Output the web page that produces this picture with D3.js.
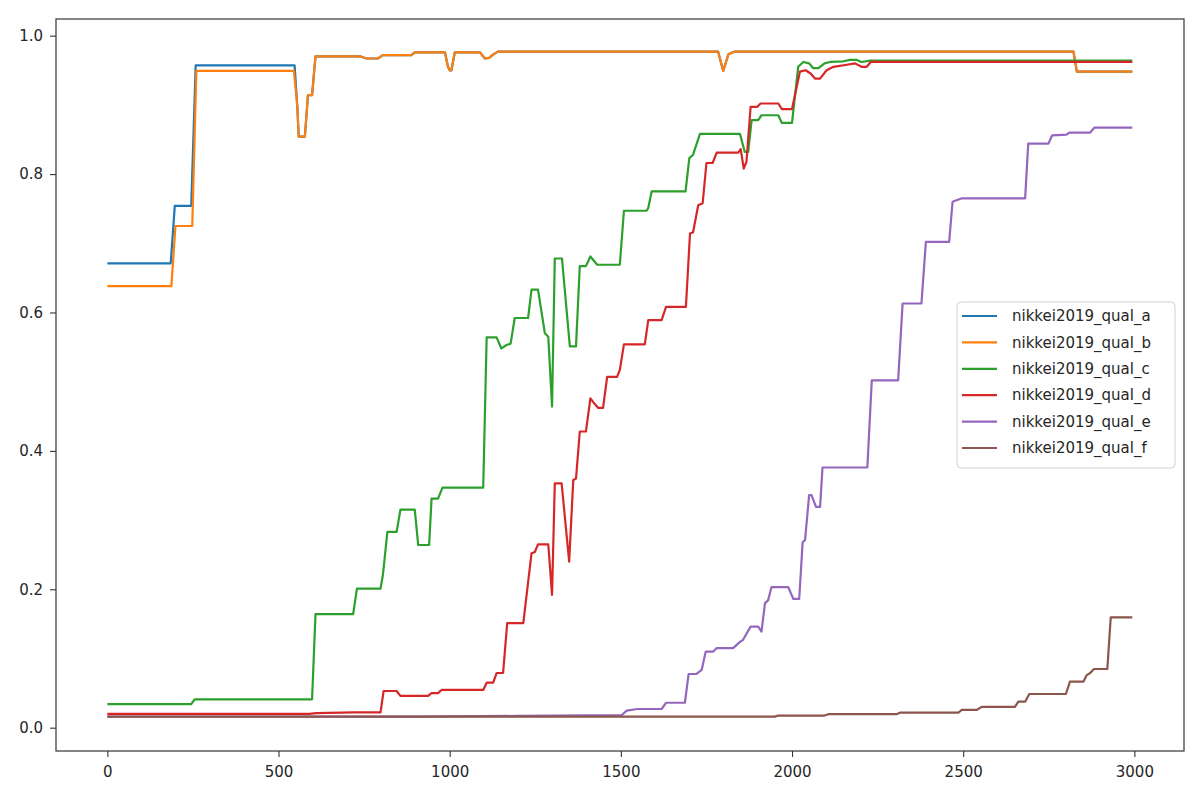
<!DOCTYPE html>
<html>
<head>
<meta charset="utf-8">
<script src="https://cdn.jsdelivr.net/npm/d3@7"></script>
<style>
  body { margin: 0; background: #fff; }
  svg text { font-family: "DejaVu Sans", sans-serif; font-size: 15px; fill: #262626; }
</style>
</head>
<body>
<div id="chart"></div>
<script>
// Data: [step, value] breakpoints for each series
var seriesNames = ["nikkei2019_qual_a", "nikkei2019_qual_b", "nikkei2019_qual_c",
                   "nikkei2019_qual_d", "nikkei2019_qual_e", "nikkei2019_qual_f"];
var seriesColors = ["#1f77b4", "#ff7f0e", "#2ca02c", "#d62728", "#9467bd", "#8c564b"];

var xTicks = [0, 500, 1000, 1500, 2000, 2500, 3000];
var yTicks = [0.0, 0.2, 0.4, 0.6, 0.8, 1.0];

var qualA = [[0,0.671],[185,0.671],[197,0.754],[245,0.754],[258,0.957],[547,0.957],[555,0.897],
  [559,0.854],[577,0.854],[586,0.914],[598,0.914],[608,0.970],[740,0.970],[757,0.967],[790,0.967],
  [805,0.972],[888,0.972],[898,0.976],[986,0.976],[995,0.955],[1000,0.950],[1005,0.950],[1015,0.976],
  [1088,0.976],[1103,0.967],[1115,0.968],[1125,0.972],[1141,0.977],[1784,0.977],[1799,0.949],
  [1814,0.973],[1833,0.977],[2822,0.977],[2832,0.948],[2994,0.948]];

var qualB = [[0,0.638],[187,0.638],[199,0.725],[248,0.725],[260,0.949],[545,0.949],[555,0.897],
  [559,0.854],[577,0.854],[586,0.914],[598,0.914],[608,0.970],[740,0.970],[757,0.967],[790,0.967],
  [805,0.972],[888,0.972],[898,0.976],[986,0.976],[995,0.955],[1000,0.950],[1005,0.950],[1015,0.976],
  [1088,0.976],[1103,0.967],[1115,0.968],[1125,0.972],[1141,0.977],[1784,0.977],[1799,0.949],
  [1814,0.973],[1833,0.977],[2822,0.977],[2832,0.948],[2994,0.948]];

var qualC = [[0,0.034],[245,0.034],[255,0.041],[598,0.041],[608,0.164],[718,0.164],[729,0.201],
  [798,0.201],[805,0.221],[818,0.283],[845,0.283],[856,0.315],[898,0.315],[908,0.264],[940,0.264],
  [947,0.331],[966,0.331],[979,0.347],[1098,0.347],[1108,0.564],[1137,0.564],[1151,0.548],
  [1166,0.553],[1178,0.555],[1190,0.592],[1229,0.592],[1239,0.633],[1258,0.633],[1278,0.570],
  [1288,0.565],[1299,0.464],[1307,0.678],[1328,0.678],[1351,0.551],[1369,0.551],[1380,0.667],
  [1398,0.667],[1411,0.681],[1431,0.669],[1497,0.669],[1509,0.747],[1575,0.747],[1580,0.751],
  [1590,0.775],[1689,0.775],[1700,0.823],[1711,0.828],[1731,0.858],[1848,0.858],[1862,0.832],
  [1872,0.832],[1882,0.878],[1901,0.878],[1911,0.885],[1960,0.885],[1970,0.874],[2000,0.874],
  [2018,0.955],[2033,0.962],[2050,0.960],[2062,0.953],[2077,0.953],[2095,0.960],[2111,0.962],
  [2150,0.963],[2169,0.965],[2189,0.965],[2203,0.962],[2228,0.964],[2994,0.964]];

var qualD = [[0,0.020],[590,0.020],[610,0.021],[720,0.022],[798,0.022],[807,0.053],[845,0.053],
  [856,0.046],[937,0.046],[947,0.050],[966,0.050],[976,0.0545],[1098,0.0545],[1108,0.065],
  [1127,0.065],[1137,0.079],[1156,0.079],[1168,0.151],[1215,0.151],[1239,0.252],[1249,0.254],
  [1258,0.265],[1288,0.265],[1299,0.192],[1307,0.353],[1327,0.353],[1349,0.240],[1361,0.358],
  [1369,0.360],[1380,0.428],[1398,0.428],[1411,0.476],[1420,0.470],[1434,0.462],[1448,0.462],
  [1460,0.507],[1489,0.507],[1497,0.517],[1509,0.554],[1570,0.554],[1580,0.589],[1619,0.589],
  [1632,0.608],[1690,0.608],[1702,0.714],[1711,0.716],[1726,0.755],[1739,0.758],[1750,0.816],
  [1768,0.816],[1780,0.831],[1843,0.831],[1850,0.836],[1859,0.808],[1867,0.818],[1879,0.897],
  [1898,0.897],[1908,0.902],[1960,0.902],[1970,0.894],[2000,0.894],[2023,0.948],[2040,0.950],
  [2055,0.945],[2067,0.938],[2082,0.938],[2101,0.950],[2121,0.955],[2160,0.958],[2184,0.960],
  [2203,0.955],[2218,0.955],[2230,0.962],[2994,0.962]];

var qualE = [[0,0.016],[900,0.016],[1200,0.017],[1502,0.018],[1517,0.0246],[1548,0.027],[1619,0.027],
  [1632,0.036],[1687,0.036],[1698,0.0776],[1721,0.0776],[1736,0.0834],[1748,0.110],[1770,0.110],
  [1780,0.115],[1828,0.115],[1848,0.124],[1857,0.127],[1879,0.146],[1901,0.146],[1911,0.139],
  [1921,0.180],[1930,0.184],[1940,0.203],[1989,0.203],[2004,0.186],[2021,0.186],[2031,0.268],
  [2038,0.271],[2050,0.336],[2057,0.336],[2070,0.319],[2082,0.319],[2089,0.376],[2220,0.376],
  [2233,0.502],[2310,0.502],[2323,0.613],[2378,0.613],[2391,0.702],[2459,0.702],[2469,0.760],
  [2496,0.765],[2681,0.765],[2690,0.844],[2749,0.844],[2760,0.856],[2802,0.857],[2810,0.860],
  [2871,0.860],[2883,0.867],[2994,0.867]];

var qualF = [[0,0.016],[1950,0.016],[1960,0.0175],[2095,0.0175],[2106,0.0195],[2305,0.0195],
  [2315,0.0217],[2486,0.0217],[2496,0.0256],[2539,0.0256],[2554,0.030],[2651,0.030],[2661,0.0376],
  [2681,0.0376],[2693,0.0487],[2800,0.0487],[2812,0.0665],[2851,0.0665],[2861,0.076],[2871,0.079],
  [2882,0.0848],[2921,0.0848],[2931,0.1595],[2994,0.1595]];

var allSeries = [qualA, qualB, qualC, qualD, qualE, qualF];

// Layout
var width = 1200, height = 796;
var margin = { top: 19, right: 16, bottom: 45, left: 56 };
var plotW = width - margin.left - margin.right,
    plotH = height - margin.top - margin.bottom;

var svg = d3.select("#chart").append("svg")
    .attr("width", width)
    .attr("height", height);

var g = svg.append("g")
    .attr("transform", "translate(" + margin.left + "," + margin.top + ")");

var x = d3.scaleLinear().domain([-150, 3145]).range([0, plotW]);
var y = d3.scaleLinear().domain([-0.0337, 1.0241]).range([plotH, 0]);

var line = d3.line()
    .x(function(d) { return x(d[0]); })
    .y(function(d) { return y(d[1]); });

// Series lines
g.selectAll(".series")
    .data(allSeries)
  .enter().append("path")
    .attr("class", "series")
    .attr("d", line)
    .attr("fill", "none")
    .attr("stroke", function(d, i) { return seriesColors[i]; })
    .attr("stroke-width", 2.2)
    .attr("stroke-linejoin", "round");

// Axes
var xAxis = d3.axisBottom(x).tickValues(xTicks).tickSize(6).tickSizeOuter(0).tickPadding(9)
    .tickFormat(d3.format("d"));
var yAxis = d3.axisLeft(y).tickValues(yTicks).tickSize(6).tickSizeOuter(0).tickPadding(7)
    .tickFormat(d3.format(".1f"));

var gx = g.append("g")
    .attr("transform", "translate(0," + plotH + ")")
    .call(xAxis);
var gy = g.append("g").call(yAxis);

[gx, gy].forEach(function(ax) {
  ax.select(".domain").remove();
  ax.selectAll("line").attr("stroke", "#333").attr("stroke-width", 1.1);
  ax.selectAll("text").attr("font-size", null).attr("font-family", null).attr("fill", "#262626");
});

// Frame
g.append("rect")
    .attr("width", plotW)
    .attr("height", plotH)
    .attr("fill", "none")
    .attr("stroke", "#333")
    .attr("stroke-width", 1.2);

// Legend
var legend = g.append("g")
    .attr("transform", "translate(" + (957 - margin.left) + "," + (302 - margin.top) + ")");

legend.append("rect")
    .attr("width", 218)
    .attr("height", 166)
    .attr("rx", 4)
    .attr("fill", "#fff")
    .attr("fill-opacity", 0.8)
    .attr("stroke", "#d0d0d0")
    .attr("stroke-width", 1);

var item = legend.selectAll(".item")
    .data(seriesNames)
  .enter().append("g")
    .attr("class", "item")
    .attr("transform", function(d, i) { return "translate(0," + (14 + i * 26.4) + ")"; });

item.append("line")
    .attr("x1", 5)
    .attr("x2", 40)
    .attr("stroke", function(d, i) { return seriesColors[i]; })
    .attr("stroke-width", 2.2);

item.append("text")
    .attr("x", 55)
    .attr("dy", "0.35em")
    .text(function(d) { return d; });
</script>
</body>
</html>
